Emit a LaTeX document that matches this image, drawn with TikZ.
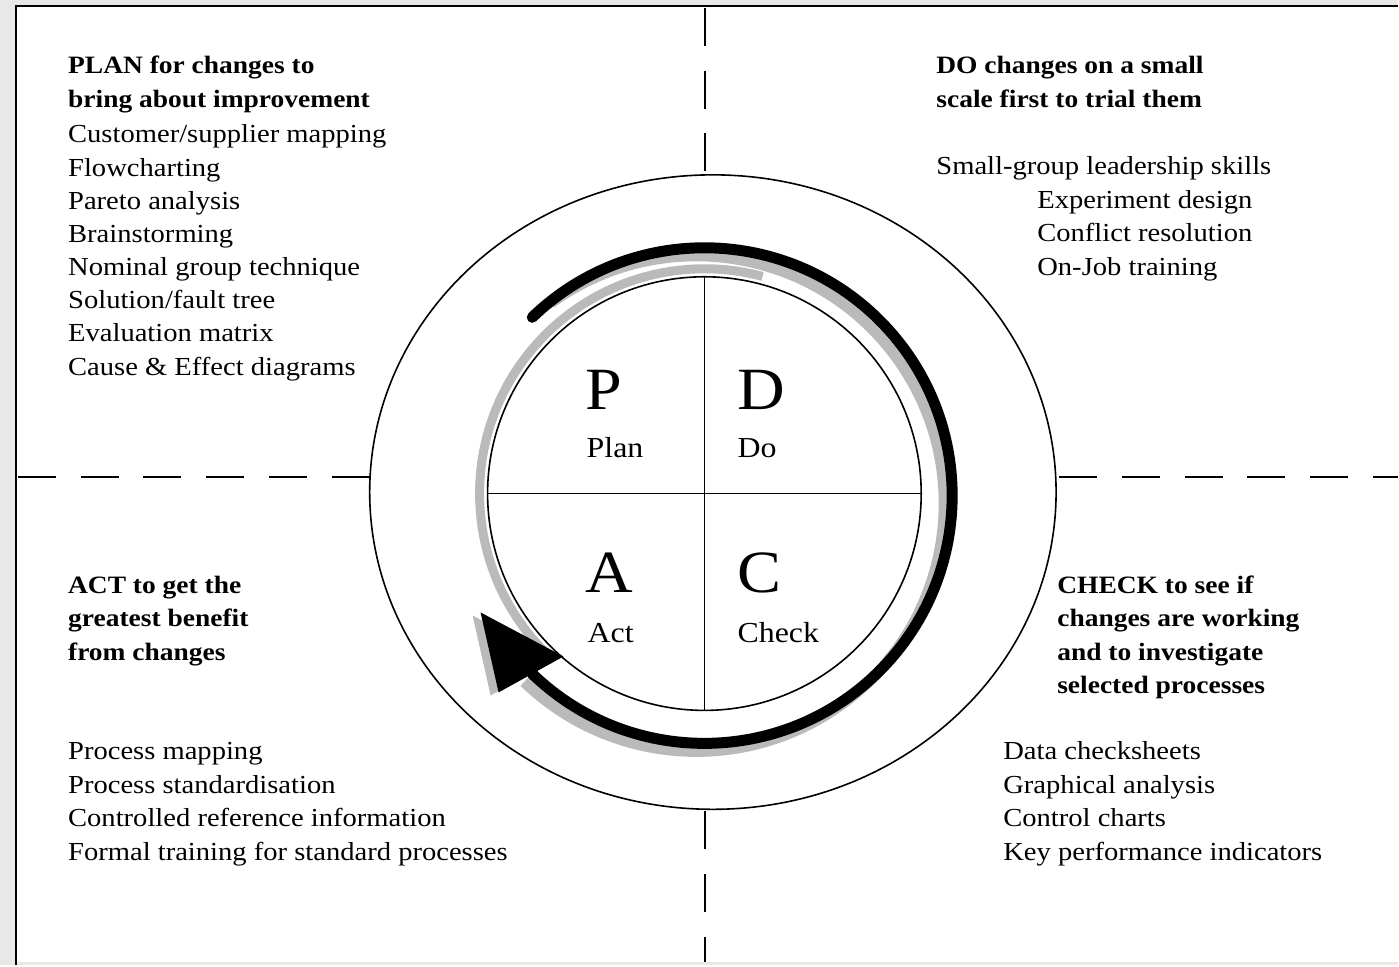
\documentclass[tikz,border=0pt]{standalone}
\usepackage{fontspec}
\setmainfont{Liberation Serif}[FakeStretch=1.1]
\begin{document}
\begin{tikzpicture}[x=1pt,y=-1pt,
  body/.style={anchor=base west,inner sep=0pt,font=\fontsize{26}{30}\selectfont},
  head/.style={anchor=base west,inner sep=0pt,font=\fontsize{25}{30}\selectfont\bfseries},
  bigletter/.style={anchor=base west,inner sep=0pt,font=\fontsize{60}{66}\selectfont},
  smalllabel/.style={anchor=base west,inner sep=0pt,font=\fontsize{29}{33}\selectfont},
  divider/.style={line width=2pt,dash pattern=on 38pt off 24.8pt},
  ring/.style={line width=1.6pt},
]
% page and frame
\fill[black!9] (0,0) rectangle (1399,966);
\fill[white] (15,5) rectangle (1399,963);
\draw[line width=2.4pt] (16,966) -- (16,6) -- (1399,6);
\useasboundingbox (0,0) rectangle (1399,966);

% named reference points
\coordinate (ctr) at (705,494);
\coordinate (ell) at (713.5,492.5);

% dashed quadrant dividers
\draw[divider] (18,477) -- (370,477);
\draw[divider] (1060,477) -- (1399,477);
\draw[divider] (706,8) -- (706,175);
\draw[divider] (706,812) -- (706,963);

% outer ring
\draw[ring] (ell) ellipse [x radius=343.5, y radius=317.5];

% grey band hugging the inner circle on the left
\draw[black!27,line width=9pt] (ctr) ++(132:225) arc[start angle=132, end angle=285, radius=225];

% shadow of the cycle arrow, offset down and to the left
\draw[black!27,line width=11pt] (551.2,303.4) arc[start angle=234, end angle=494, radius=248];
\fill[black!27] (473,616) -- (491,696) -- (556,660) -- cycle;

% inner circle and cross
\draw[ring,fill=white] (ctr) circle[radius=217];
\draw[ring] (705,277) -- (705,711);
\draw[ring] (488,494) -- (922,494);

% cycle arrow
\coordinate (arrowstart) at (532.7,317.6);
\draw[line width=11pt,line cap=round] (arrowstart) arc[start angle=226, end angle=494, radius=248] coordinate (arrowend);
\fill (481,613) -- (499,693) -- (564,657) -- cycle;

% quadrant letters
\node[bigletter] (letterP) at (586,410) {P};
\node[smalllabel] (labelP) at (587,458) {Plan};
\node[bigletter] (letterD) at (738,410) {D};
\node[smalllabel] (labelD) at (738,458) {Do};
\node[bigletter] (letterA) at (586,593) {A};
\node[smalllabel] (labelA) at (588,643) {Act};
\node[bigletter] (letterC) at (738,593) {C};
\node[smalllabel] (labelC) at (738,643) {Check};

% PLAN
\node[head] (planh1) at (68,74) {PLAN for changes to};
\node[head] (planh2) at (68,108) {bring about improvement};
\foreach \t [count=\i] in {Customer/supplier mapping,Flowcharting,Pareto analysis,Brainstorming,Nominal group technique,Solution/fault tree,Evaluation matrix,Cause \& Effect diagrams}
  \node[body] (plan\i) at (68,{143+33.2*(\i-1)}) {\t};

% DO
\node[head] (doh1) at (937,74) {DO changes on a small};
\node[head] (doh2) at (937,108) {scale first to trial them};
\node[body] (do1) at (937,175) {Small-group leadership skills};
\node[body] (do2) at (1038,209) {Experiment design};
\node[body] (do3) at (1038,242) {Conflict resolution};
\node[body] (do4) at (1038,276) {On-Job training};

% ACT
\node[head] (acth1) at (68,594) {ACT to get the};
\node[head] (acth2) at (68,627) {greatest benefit};
\node[head] (acth3) at (68,661) {from changes};
\foreach \t [count=\i] in {Process mapping,Process standardisation,Controlled reference information,Formal training for standard processes}
  \node[body] (act\i) at (68,{760+33.7*(\i-1)}) {\t};

% CHECK
\node[head] (checkh1) at (1058,594) {CHECK to see if};
\node[head] (checkh2) at (1058,627) {changes are working};
\node[head] (checkh3) at (1058,661) {and to investigate};
\node[head] (checkh4) at (1058,694) {selected processes};
\foreach \t [count=\i] in {Data checksheets,Graphical analysis,Control charts,Key performance indicators}
  \node[body] (check\i) at (1004,{760+33.7*(\i-1)}) {\t};
\end{tikzpicture}
\end{document}
